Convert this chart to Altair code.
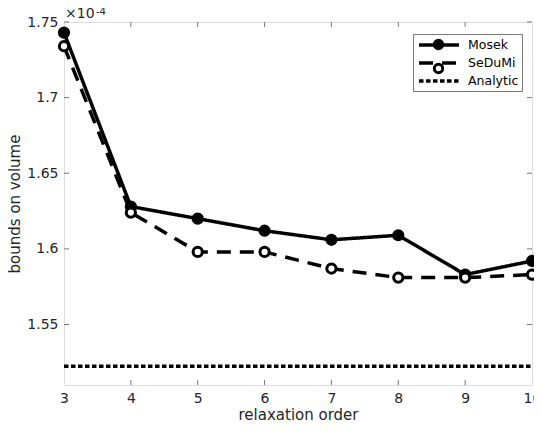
import altair as alt
import pandas as pd

orders = [3, 4, 5, 6, 7, 8, 9, 10]
mosek = [1.743, 1.628, 1.620, 1.612, 1.606, 1.609, 1.583, 1.592]
sedumi = [1.734, 1.624, 1.598, 1.598, 1.587, 1.581, 1.581, 1.583]
analytic_x = [3, 10]
analytic = [1.5224, 1.5224]
series = ["Mosek", "SeDuMi", "Analytic"]
y_ticks = [1.55, 1.6, 1.65, 1.7, 1.75]
x_ticks = [3, 4, 5, 6, 7, 8, 9, 10]

rows = []
for o, m in zip(orders, mosek):
    rows.append({"order": o, "value": m, "solver": "Mosek"})
for o, s in zip(orders, sedumi):
    rows.append({"order": o, "value": s, "solver": "SeDuMi"})
for o, a in zip(analytic_x, analytic):
    rows.append({"order": o, "value": a, "solver": "Analytic"})
df = pd.DataFrame(rows)
pts = df[df.solver != "Analytic"].copy()
pts["marker"] = pts["solver"]

W, H = 468, 363
FONT = "DejaVu Sans"
TXT = "#262626"
xs = alt.Scale(domain=[3, 10], nice=False, zero=False)
ys = alt.Scale(domain=[1.51, 1.75], nice=False, zero=False)

LEG = dict(title=None, orient="none", legendX=349, legendY=12, symbolSize=144,
           symbolOffset=15, labelOffset=21, labelFontSize=12.5, labelFont=FONT,
           padding=3, rowPadding=3)
LINE_PATH = "M-3.33,0H3.33"
CIRC_PATH = "M-0.7,0A0.7,0.7 0 1,0 0.7,0A0.7,0.7 0 1,0 -0.7,0Z"

lines = alt.Chart(df).mark_line(strokeWidth=3.5, color="black", clip=True).encode(
    x=alt.X("order:Q", scale=xs,
            axis=alt.Axis(values=x_ticks, format="d", title="relaxation order", grid=False,
                          ticks=False, domain=False, labelFontSize=14, titleFontSize=15,
                          labelFont=FONT, titleFont=FONT, labelColor=TXT,
                          titleColor=TXT, titleFontWeight="normal", labelPadding=6,
                          titlePadding=2, labelFlush=False)),
    y=alt.Y("value:Q", scale=ys,
            axis=alt.Axis(values=y_ticks, format="~g", title="bounds on volume", grid=False,
                          ticks=False, domain=False, labelFontSize=14, titleFontSize=15,
                          labelFont=FONT, titleFont=FONT, labelColor=TXT,
                          titleColor=TXT, titleFontWeight="normal", labelPadding=6,
                          titlePadding=4)),
    strokeDash=alt.StrokeDash("solver:N",
        scale=alt.Scale(domain=series, range=[[1, 0], [14, 9], [4.5, 2.5]]),
        legend=alt.Legend(symbolType=LINE_PATH, symbolStrokeWidth=3.5,
                          symbolStrokeColor="black", labelColor="black",
                          strokeColor="#777", fillColor="white", **LEG)),
    detail="solver:N",
)

points = alt.Chart(pts).mark_point(shape="circle", size=85, strokeWidth=3, stroke="black",
                                    filled=False, opacity=1).encode(
    x=alt.X("order:Q", scale=xs),
    y=alt.Y("value:Q", scale=ys),
    fill=alt.Fill("marker:N", scale=alt.Scale(domain=["Mosek", "SeDuMi"], range=["black", "white"]),
                  legend=alt.Legend(symbolType=CIRC_PATH, symbolStrokeWidth=3,
                                    symbolStrokeColor="black", symbolOpacity=1,
                                    labelOpacity=0, **LEG)),
)

tick_df = pd.DataFrame({"v": y_ticks})
xt_df = pd.DataFrame({"v": x_ticks[1:-1]})
tcol = "#777"
yt_left = alt.Chart(tick_df).mark_rule(color=tcol, strokeWidth=1).encode(
    y=alt.Y("v:Q", scale=ys), x=alt.value(0), x2=alt.value(5))
yt_right = alt.Chart(tick_df).mark_rule(color=tcol, strokeWidth=1).encode(
    y=alt.Y("v:Q", scale=ys), x=alt.value(W), x2=alt.value(W - 5))
xt_bot = alt.Chart(xt_df).mark_rule(color=tcol, strokeWidth=1).encode(
    x=alt.X("v:Q", scale=xs), y=alt.value(H), y2=alt.value(H - 5))
xt_top = alt.Chart(xt_df).mark_rule(color=tcol, strokeWidth=1).encode(
    x=alt.X("v:Q", scale=xs), y=alt.value(0), y2=alt.value(5))

expo_base = alt.Chart(pd.DataFrame({"t": ["×10"]})).mark_text(
    align="left", baseline="alphabetic", fontSize=14, font=FONT, color=TXT).encode(
    x=alt.value(1), y=alt.value(-4), text="t:N")
expo_sup = alt.Chart(pd.DataFrame({"t": ["-4"]})).mark_text(
    align="left", baseline="alphabetic", fontSize=10, font=FONT, color=TXT).encode(
    x=alt.value(32), y=alt.value(-7), text="t:N")

chart = alt.layer(lines, points, yt_left, yt_right, xt_bot, xt_top, expo_base, expo_sup).resolve_legend(
    fill="independent").properties(
    width=W, height=H,
    autosize=alt.AutoSizeParams(type="none"),
    padding={"left": 56, "top": 14, "right": 2, "bottom": 41},
).configure_view(stroke=tcol, strokeWidth=1).configure(background="white")

chart.save("out.html", embed_options={"renderer": "svg", "actions": False})
